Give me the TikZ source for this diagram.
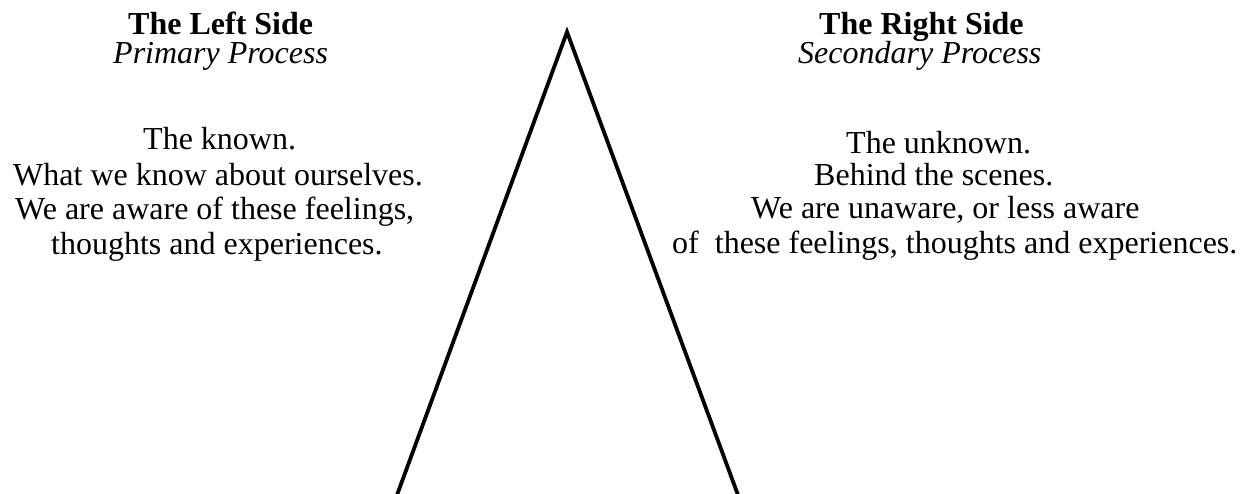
\documentclass[tikz,border=0pt]{standalone}
\usepackage{fontspec}
\setmainfont{Liberation Serif}
\usetikzlibrary{positioning}

\tikzset{
  txt/.style={anchor=base west, inner sep=0pt, font=\fontsize{32}{36}\selectfont},
  headtxt/.style={txt, font=\fontsize{32}{36}\selectfont\bfseries},
  subtxt/.style={txt, font=\fontsize{32}{36}\selectfont\itshape}
}

\begin{document}
\begin{tikzpicture}[x=1pt, y=-1pt]
  \useasboundingbox (0,0) rectangle (1246,493);
  % Left side text
  \node[headtxt] (ltitle) at (128,34) {The Left Side};
  \node[subtxt] (lsub) at (113,63) {Primary Process};
  \node[txt] (lone) at (143,149) {The known.};
  \node[txt] (ltwo) at (13,185) {What we know about ourselves.};
  \node[txt] (lthree) at (15,219) {We are aware of these feelings,};
  \node[txt] (lfour) at (51,254) {thoughts and experiences.};
  % Right side text
  \node[headtxt] (rtitle) at (819,34) {The Right Side};
  \node[subtxt] (rsub) at (798,63) {Secondary Process};
  \node[txt] (rone) at (846,153) {The unknown.};
  \node[txt] (rtwo) at (814,185) {Behind the scenes.};
  \node[txt] (rthree) at (751,218) {We are unaware, or less aware};
  \node[txt] (rfour) at (672,253) {of\ \ these feelings, thoughts and experiences.};
  % The divide
  \coordinate (apex) at (567,32);
  \coordinate (lfoot) at (397,495);
  \coordinate (rfoot) at (738,495);
  \draw[line width=3.8pt] (lfoot) -- (apex) -- (rfoot);
\end{tikzpicture}
\end{document}
